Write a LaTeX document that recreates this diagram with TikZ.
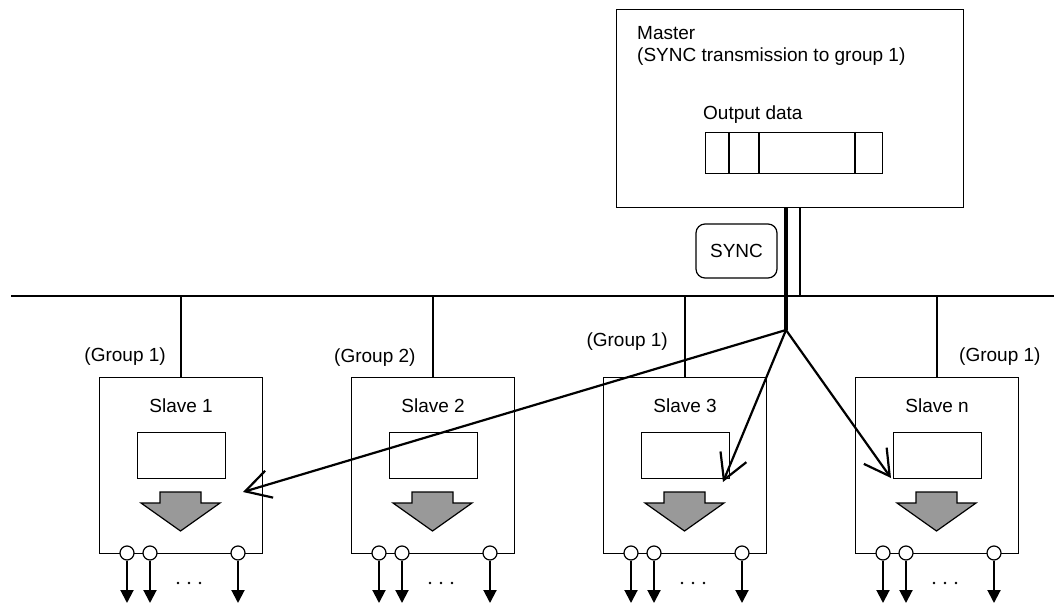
\documentclass[tikz,border=0pt]{standalone}
\usepackage{fontspec}
\setmainfont{Liberation Sans}
\usetikzlibrary{arrows.meta,calc}
\begin{document}
\begin{tikzpicture}[x=1pt,y=-1pt,
  box/.style={draw, line width=1.2pt, inner sep=0pt},
  lbl/.style={font=\fontsize{19}{22}\selectfont, inner sep=0pt},
  bus/.style={line width=1.8pt},
  sig/.style={line width=2.2pt, -{Straight Barb[length=25pt,width=28pt,line width=2.2pt]}},
  outarr/.style={line width=2pt, -{Triangle[length=13pt,width=13pt]}},
  port/.style={circle, draw, fill=white, line width=1.2pt, minimum size=14pt, inner sep=0pt},
  grayarrow/.style={draw, line width=1.2pt, fill={rgb,255:red,153;green,153;blue,153}},
]
\useasboundingbox (0,0) rectangle (1054,604);

% Master
\node[box, anchor=north west, minimum width=347, minimum height=198] (master) at (616,9) {};
\node[lbl, anchor=base west] (mtitle) at (637,40) {Master};
\node[lbl, anchor=base west] (msub) at (637,62) {(SYNC transmission to group 1)};
\node[lbl, anchor=base west] (odl) at (703,120) {Output data};
\node[box, anchor=north west, minimum width=177, minimum height=41] (data) at (705,132) {};
\foreach \xx in {729,759,855} \draw[line width=1.5pt] (\xx,132) -- (\xx,173);

% SYNC
\node[draw, line width=1.2pt, rounded corners=9pt, minimum width=81, minimum height=54, lbl] (sync) at (736.5,251) {SYNC};

% bus
\coordinate (busL) at (11,296);
\coordinate (busR) at (1054,296);
\coordinate (fan) at (786,330);
\coordinate (thin) at (800,296);
\draw[bus] (busL) -- (busR);
\draw[line width=3.2pt] (fan |- master.south) -- (fan);
\draw[bus] (thin |- master.south) -- (thin);

% slaves
\foreach \k/\L/\t in {1/99/Slave 1, 2/351/Slave 2, 3/603/Slave 3, n/855/Slave n} {
  \node[box, anchor=north west, minimum width=163, minimum height=176] (s\k) at (\L,377) {};
  \draw[bus] (s\k.north) -- (s\k.north |- busL);
  \path (s\k.north) ++(0,29) node[lbl] (s\k t) {\t};
  \node[box, anchor=north west, minimum width=88, minimum height=46] (s\k d) at (\L+38,432) {};
  \draw[grayarrow] (\L+61,492) -- (\L+102,492) -- (\L+102,503) -- (\L+121,503) -- (\L+81.5,531) -- (\L+42,503) -- (\L+61,503) -- cycle;
  \node[port] (s\k pa) at (\L+28,553) {};
  \node[port] (s\k pb) at (\L+51,553) {};
  \node[port] (s\k pc) at (\L+139,553) {};
  \coordinate (s\k oa) at (\L+28,603);
  \coordinate (s\k ob) at (\L+51,603);
  \coordinate (s\k oc) at (\L+139,603);
  \draw[outarr] (s\k pa.south) -- (s\k oa);
  \draw[outarr] (s\k pb.south) -- (s\k ob);
  \draw[outarr] (s\k pc.south) -- (s\k oc);
  \foreach \dx in {79,90,101} \fill (\L+\dx,583) circle (1.4pt);
}

% group labels
\node[lbl, anchor=east] (g1) at (166,357) {(Group 1)};
\node[lbl, anchor=west] (g2) at (334,358) {(Group 2)};
\node[lbl, anchor=east] (g3) at (668,342) {(Group 1)};
\node[lbl, anchor=west] (gn) at (959,357) {(Group 1)};

% sync arrows
\coordinate (t1) at (243,492);
\coordinate (t3) at (723,482);
\coordinate (tn) at (891,478);
\draw[sig] (fan) -- (t1);
\draw[sig] (fan) -- (t3);
\draw[sig] (fan) -- (tn);
\end{tikzpicture}
\end{document}
